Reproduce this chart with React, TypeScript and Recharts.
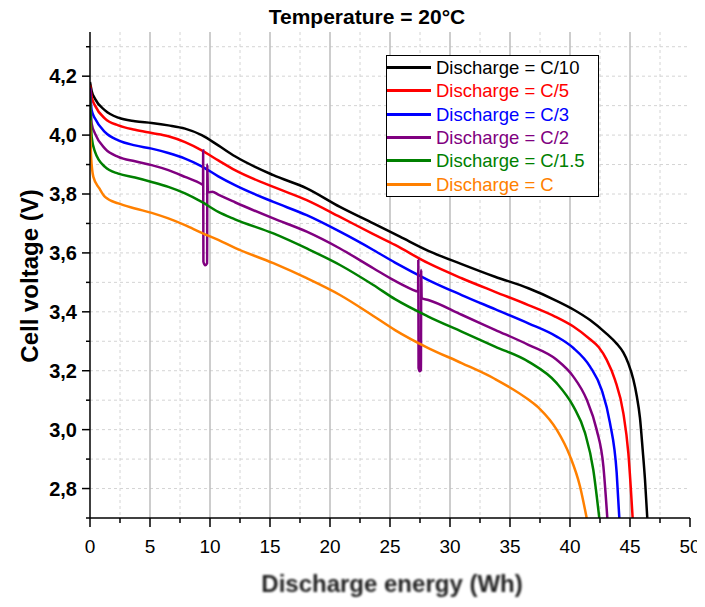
import React from 'react';
import { LineChart, Line, XAxis, YAxis, CartesianGrid, Legend, ReferenceLine } from 'recharts';

// axis ticks
const xTicks = [0, 2.5, 5, 7.5, 10, 12.5, 15, 17.5, 20, 22.5, 25, 27.5, 30, 32.5, 35, 37.5, 40, 42.5, 45, 47.5, 50];
const xMajorGrid = [5, 10, 15, 20, 25, 30, 35, 40, 45];
const xMinorGrid = [2.5, 7.5, 12.5, 17.5, 22.5, 27.5, 32.5, 37.5, 42.5, 47.5];
const yTicks = [2.7, 2.8, 2.9, 3.0, 3.1, 3.2, 3.3, 3.4, 3.5, 3.6, 3.7, 3.8, 3.9, 4.0, 4.1, 4.2, 4.3];
const yGrid = [2.8, 2.9, 3.0, 3.1, 3.2, 3.3, 3.4, 3.5, 3.6, 3.7, 3.8, 3.9, 4.0, 4.1, 4.2, 4.3];
const topTicks = [0, 5, 10, 15, 20, 25, 30, 35, 40, 45, 50];
const rightTicks = [0, 1, 2, 3, 4, 5, 6, 7, 8, 9, 10];

const seriesNames = ['Discharge = C/10', 'Discharge = C/5', 'Discharge = C/3', 'Discharge = C/2', 'Discharge = C/1.5', 'Discharge = C'];
const seriesColors = ['#000000', '#ff0000', '#0000ff', '#800080', '#008000', '#ff8000'];

// [energy Wh, voltage V]
const c10 = [
  [0, 4.18], [0.14, 4.15], [0.42, 4.123], [1.25, 4.084], [2.36, 4.059], [3.75, 4.047], [5.14, 4.041],
  [6.53, 4.033], [7.92, 4.022], [9.31, 4.0], [10.69, 3.965], [12.08, 3.928], [15.28, 3.864],
  [18.06, 3.819], [20.83, 3.756], [23.61, 3.7], [25.83, 3.655], [28.19, 3.607], [30.97, 3.562],
  [33.75, 3.519], [36.53, 3.48], [38.75, 3.44], [40.28, 3.408], [41.67, 3.372], [43.06, 3.325],
  [43.89, 3.292], [44.44, 3.262], [44.86, 3.225], [45.28, 3.17], [45.56, 3.115], [45.83, 3.04],
  [46.05, 2.935], [46.25, 2.83], [46.44, 2.7],
];
const c5 = [
  [0, 4.17], [0.14, 4.129], [0.42, 4.1], [1.25, 4.056], [2.36, 4.033], [3.75, 4.018], [5.14, 4.007],
  [6.53, 3.996], [7.92, 3.976], [9.31, 3.948], [10.69, 3.914], [12.08, 3.881], [15.28, 3.824],
  [18.06, 3.779], [20.83, 3.722], [23.61, 3.664], [25.42, 3.627], [28.19, 3.565], [30.97, 3.514],
  [33.75, 3.468], [36.53, 3.423], [38.75, 3.384], [40.28, 3.35], [41.67, 3.307], [42.4, 3.28],
  [43.06, 3.237], [43.75, 3.169], [44.44, 3.057], [44.86, 2.921], [45.22, 2.7],
];
const c3 = [
  [0, 4.16], [0.14, 4.084], [0.42, 4.056], [1.25, 4.01], [2.36, 3.982], [3.75, 3.965], [5.14, 3.954],
  [6.53, 3.939], [7.92, 3.92], [9.31, 3.894], [10.69, 3.86], [12.08, 3.83], [15.28, 3.773],
  [18.06, 3.728], [20.83, 3.672], [23.61, 3.61], [25.42, 3.567], [28.19, 3.508], [30.97, 3.457],
  [33.75, 3.409], [36.53, 3.361], [38.89, 3.316], [40.28, 3.277], [41.67, 3.214], [42.64, 3.135],
  [43.33, 3.023], [43.89, 2.853], [44.11, 2.7],
];
const c2 = [
  [0, 4.15], [0.14, 4.039], [0.42, 4.005], [1.25, 3.954], [2.36, 3.926], [3.75, 3.911], [5.14, 3.898],
  [6.53, 3.881], [7.92, 3.858], [9.31, 3.833], [9.42, 3.83], [9.43, 3.948], [9.45, 3.57], [9.6, 3.558],
  [9.76, 3.565], [9.78, 3.9], [9.82, 3.805], [10.2, 3.808], [10.69, 3.798], [12.08, 3.772],
  [15.28, 3.717], [18.06, 3.672], [20.83, 3.615], [23.61, 3.548], [25.42, 3.505], [27.2, 3.47],
  [27.34, 3.468], [27.36, 3.576], [27.38, 3.209], [27.48, 3.198], [27.58, 3.203], [27.6, 3.542],
  [27.64, 3.446], [28.19, 3.44], [30.97, 3.39], [33.75, 3.339], [36.53, 3.288], [38.89, 3.237],
  [40.28, 3.18], [41.39, 3.102], [42.22, 3.0], [42.78, 2.876], [43.11, 2.7],
];
const c15 = [
  [0, 4.13], [0.14, 3.993], [0.42, 3.943], [1.25, 3.892], [2.36, 3.869], [3.75, 3.856], [5.14, 3.841],
  [6.53, 3.824], [7.92, 3.802], [9.31, 3.773], [10.69, 3.739], [12.08, 3.714], [15.28, 3.666],
  [18.06, 3.615], [20.83, 3.559], [23.61, 3.491], [25.42, 3.443], [28.19, 3.384], [30.97, 3.333],
  [33.75, 3.282], [36.53, 3.231], [38.89, 3.158], [40.28, 3.079], [41.25, 2.989], [41.94, 2.864],
  [42.44, 2.7],
];
const c1 = [
  [0, 4.05], [0.1, 3.92], [0.28, 3.858], [0.78, 3.819], [1.25, 3.79], [2.36, 3.768], [3.75, 3.751],
  [5.14, 3.736], [6.53, 3.717], [7.92, 3.694], [9.31, 3.668], [10.69, 3.644], [12.08, 3.617],
  [15.28, 3.565], [18.06, 3.514], [20.83, 3.457], [23.61, 3.386], [25.42, 3.338], [28.19, 3.277],
  [30.97, 3.226], [33.75, 3.172], [36.53, 3.102], [37.5, 3.07], [38.89, 3.0], [40.0, 2.91],
  [40.83, 2.808], [41.39, 2.7],
];

const seriesData = [c10, c5, c3, c2, c15, c1].map(arr => arr.map(([e, v]) => ({ e, v })));

const font = '"Liberation Sans", Arial, sans-serif';

const LeftTick = (props: any) => {
  const { x, y, payload } = props;
  const major = Math.round(payload.value * 10) % 2 === 0;
  return (
    <g>
      <line x1={x} x2={x - (major ? 8 : 4)} y1={y} y2={y} stroke="#000" strokeWidth={1.5} />
      {major && (
        <text x={x - 13} y={y} dy="0.36em" textAnchor="end" fontSize={20} fontWeight="bold" fontFamily={font} fill="#000">
          {payload.value.toFixed(1).replace('.', ',')}
        </text>
      )}
    </g>
  );
};

const BottomTick = (props: any) => {
  const { x, y, payload } = props;
  const major = payload.value % 5 === 0;
  return (
    <g>
      <line x1={x} x2={x} y1={y} y2={y + (major ? 9 : 5)} stroke="#000" strokeWidth={1.5} />
      {major && (
        <text x={x} y={y + 28} dy="0.36em" textAnchor="middle" fontSize={19} fontFamily={font} fill="#000">
          {payload.value}
        </text>
      )}
    </g>
  );
};

const TopTick = (props: any) => {
  const { x, y, payload } = props;
  const major = payload.value % 10 === 0;
  return <line x1={x} x2={x} y1={y} y2={y + (major ? 9 : 5)} stroke="#000" strokeWidth={1.5} />;
};

const RightTick = (props: any) => {
  const { x, y } = props;
  return <line x1={x} x2={x - 8} y1={y} y2={y} stroke="#000" strokeWidth={1.5} />;
};

const renderLegend = () => (
  <div style={{ border: '1.5px solid #000', background: '#fff', width: 211, fontFamily: font }}>
    {seriesNames.map((name, i) => (
      <div key={name} style={{ display: 'flex', alignItems: 'center', height: 23.3 }}>
        <span style={{ display: 'inline-block', width: 44, height: 3, background: seriesColors[i], marginRight: 5 }} />
        <span style={{ color: seriesColors[i], fontSize: 18.5, lineHeight: '23px' }}>{name}</span>
      </div>
    ))}
  </div>
);

export default function App() {
  return (
    <div style={{ position: 'relative', width: 697, height: 599, marginBottom: -8, fontFamily: font }}>
      <div style={{ position: 'absolute', left: 0, width: 718, top: -3, textAlign: 'center', fontSize: 21, fontWeight: 'bold' }}>
        Temperature = 20°C
      </div>
      <div
        style={{
          position: 'absolute', left: 22, top: 268, fontSize: 24, fontWeight: 'bold', whiteSpace: 'nowrap',
          transform: 'translate(-50%, -50%) rotate(-90deg)',
        }}
      >
        Cell voltage (V)
      </div>
      <div
        style={{
          position: 'absolute', left: 384, top: 576, fontSize: 24, fontWeight: 'bold', whiteSpace: 'nowrap', color: '#222',
          transform: 'translate(-50%, -50%)', filter: 'blur(1.2px)',
        }}
      >
        Discharge energy (Wh)
      </div>
      <LineChart width={697} height={599} margin={{ top: 24, right: 15, bottom: 0, left: 0 }}>
        <CartesianGrid verticalValues={xMinorGrid} horizontalValues={yGrid} stroke="#d4d4d4" strokeDasharray="3 3" />
        {xMajorGrid.map(v => (
          <ReferenceLine key={v} x={v} stroke="#bdbdbd" strokeWidth={1.5} />
        ))}
        <XAxis
          dataKey="e" type="number" domain={[0, 50]} ticks={xTicks} interval={0} allowDataOverflow
          height={89} tickSize={0} tickMargin={0} tickLine={false} tick={<BottomTick />}
          axisLine={{ stroke: '#000', strokeWidth: 1.5 }}
        />
        <XAxis
          xAxisId="top" orientation="top" type="number" domain={[0, 50]} ticks={topTicks} interval={0}
          height={0} tickSize={0} tickMargin={0} tickLine={false} tick={<TopTick />}
          axisLine={{ stroke: '#000', strokeWidth: 1.5 }}
        />
        <YAxis
          type="number" domain={[2.7, 4.35]} ticks={yTicks} interval={0} allowDataOverflow
          width={82} tickSize={0} tickMargin={0} tickLine={false} tick={<LeftTick />}
          axisLine={{ stroke: '#000', strokeWidth: 1.5 }}
        />
        <YAxis
          yAxisId="right" orientation="right" type="number" domain={[0, 10]} ticks={rightTicks} interval={0}
          width={0} tickSize={0} tickMargin={0} tickLine={false} tick={<RightTick />}
          axisLine={{ stroke: '#000', strokeWidth: 1.5 }}
        />
        <Legend
          layout="vertical" align="center" verticalAlign="middle" content={renderLegend}
          wrapperStyle={{ left: 378, top: 47, width: 214 }}
        />
        {seriesData.map((d, i) => (
          <Line
            key={seriesNames[i]} name={seriesNames[i]} data={d} dataKey="v" type="monotone"
            stroke={seriesColors[i]} strokeWidth={2.5} dot={false} activeDot={false} isAnimationActive={false}
          />
        ))}
      </LineChart>
    </div>
  );
}
